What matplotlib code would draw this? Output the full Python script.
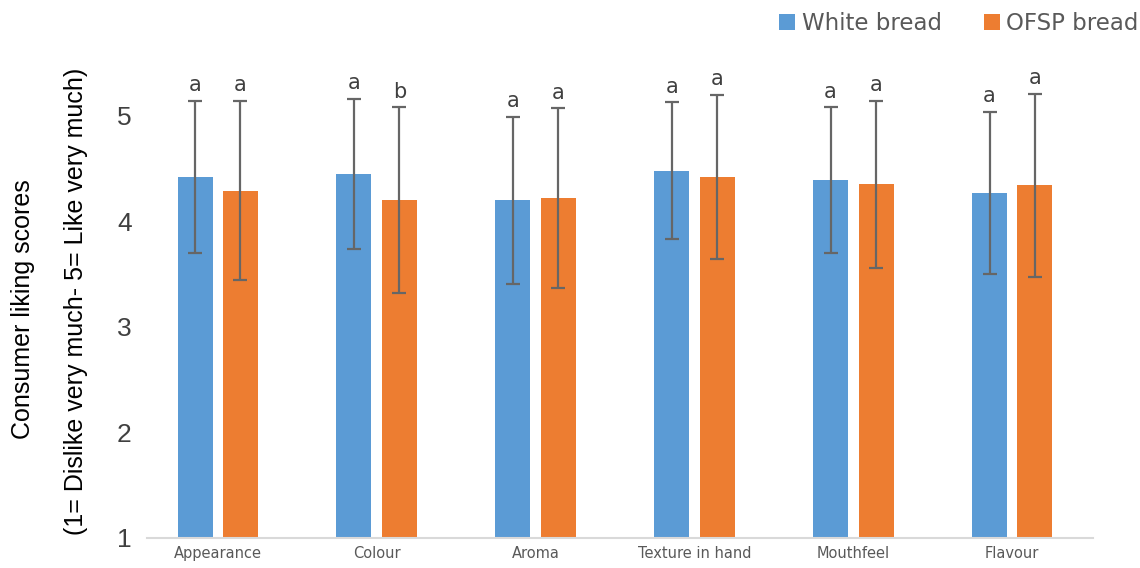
import numpy as np
import matplotlib.pyplot as plt

attributes = ['Appearance', 'Colour', 'Aroma', 'Texture in hand', 'Mouthfeel', 'Flavour']
white_mean = [4.42, 4.45, 4.20, 4.48, 4.39, 4.27]
white_sd = [0.72, 0.71, 0.79, 0.65, 0.69, 0.77]
ofsp_mean = [4.29, 4.20, 4.22, 4.42, 4.35, 4.34]
ofsp_sd = [0.85, 0.88, 0.85, 0.78, 0.79, 0.87]
white_letters = ['a', 'a', 'a', 'a', 'a', 'a']
ofsp_letters = ['a', 'b', 'a', 'a', 'a', 'a']

blue = '#5B9BD5'
orange = '#ED7D31'
err_col = '#666666'
text_col = '#595959'

fig = plt.figure(figsize=(11.4, 5.68), dpi=100)
ax = fig.add_axes([0.129, 0.053, 0.83, 0.836])

x = np.arange(len(attributes))
w = 0.22
off = 0.143

err_kw = dict(ecolor=err_col, elinewidth=1.6, capsize=5, capthick=1.6)
ax.bar(x - off, white_mean, w, yerr=white_sd, color=blue, label='White bread',
       error_kw=err_kw, zorder=2)
ax.bar(x + off, ofsp_mean, w, yerr=ofsp_sd, color=orange, label='OFSP bread',
       error_kw=err_kw, zorder=2)

# significance letters above each error bar
for i in range(len(attributes)):
    ax.annotate(white_letters[i], (x[i] - off, white_mean[i] + white_sd[i]),
                xytext=(0, 4), textcoords='offset points', ha='center', va='bottom',
                fontsize=15, color='#404040')
    ax.annotate(ofsp_letters[i], (x[i] + off, ofsp_mean[i] + ofsp_sd[i]),
                xytext=(0, 4), textcoords='offset points', ha='center', va='bottom',
                fontsize=15, color='#404040')

ax.set_ylim(1, 5.5)
ax.set_xlim(-0.445, 5.51)
ax.set_yticks([1, 2, 3, 4, 5])
ax.tick_params(axis='y', length=0, labelsize=19, labelcolor='#404040', pad=11)
for lab in ax.get_yticklabels():
    lab.set_family('Liberation Sans')
ax.set_xticks(x)
ax.set_xticklabels(attributes)
ax.tick_params(axis='x', length=0, labelsize=10.5, labelcolor=text_col, pad=6)

for s in ['top', 'right', 'left']:
    ax.spines[s].set_visible(False)
ax.spines['bottom'].set_color('#d9d9d9')
ax.spines['bottom'].set_linewidth(1.5)

fig.text(0.02, 0.456, 'Consumer liking scores', rotation=90, ha='center', va='center',
         fontsize=18, color='black', family='Liberation Sans')
fig.text(0.067, 0.47, '(1= Dislike very much- 5= Like very much)', rotation=90,
         ha='center', va='center', fontsize=18, color='black', family='Liberation Sans')

ax.legend(loc='upper right', bbox_to_anchor=(1.0 + 0.07, 1.15), ncol=2, frameon=False,
          fontsize=16.5, labelcolor=text_col, handlelength=0.7, handleheight=0.7,
          handletextpad=0.3, columnspacing=1.8)

fig.savefig('out.png', dpi=100)
